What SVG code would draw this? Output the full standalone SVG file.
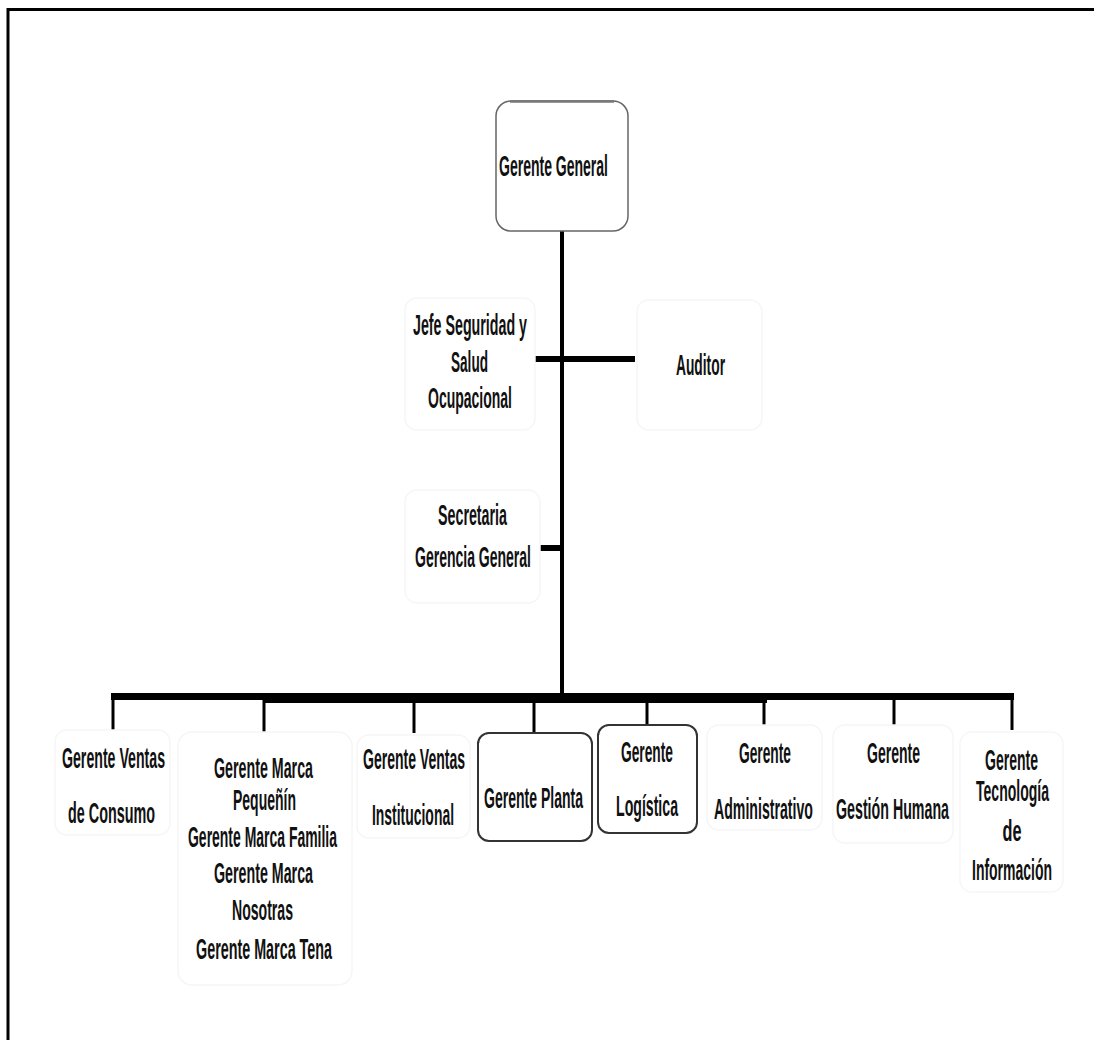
<svg xmlns="http://www.w3.org/2000/svg" width="1094" height="1040" viewBox="0 0 1094 1040">
  <style>
    text { font-family: "Liberation Sans", Arial, sans-serif; font-weight: bold; font-size: 29px; fill: #111; text-anchor: middle; }
    .frame { fill: none; stroke: #000; stroke-width: 3; }
    .ghost { fill: #fff; stroke: #f6f6f6; stroke-width: 1.5; }
    .solid { fill: #fff; stroke: #333; stroke-width: 2; }
    .top { fill: #fff; stroke: #666; stroke-width: 1.5; }
    .trunk { stroke: #000; stroke-width: 4; fill: none; }
    .stub { stroke: #000; stroke-width: 6; fill: none; }
    .drop { stroke: #000; stroke-width: 3; fill: none; }
  </style>

  <rect width="1094" height="1040" fill="#fff"/>
  <!-- page frame (right and bottom edges run off the page) -->
  <rect class="frame" x="8" y="9.5" width="1200" height="1200"/>

  <!-- connectors -->
  <g id="connectors">
    <line class="trunk" x1="562" y1="228" x2="562" y2="700"/>
    <line class="stub" x1="535" y1="359" x2="635" y2="359"/>
    <line class="stub" x1="540" y1="548" x2="562" y2="548"/>
    <line stroke="#000" stroke-width="7" x1="111" y1="696.5" x2="1014" y2="696.5"/>
    <line stroke="#000" stroke-width="10" x1="263" y1="698" x2="767" y2="698"/>
    <line class="drop" x1="113" y1="697" x2="113" y2="732"/>
    <line class="drop" x1="264" y1="697" x2="264" y2="732"/>
    <line class="drop" x1="414" y1="697" x2="414" y2="733"/>
    <line class="drop" x1="534" y1="697" x2="534" y2="733"/>
    <line class="drop" x1="647" y1="697" x2="647" y2="726"/>
    <line class="drop" x1="764" y1="697" x2="764" y2="725"/>
    <line class="drop" x1="894" y1="697" x2="894" y2="725"/>
    <line class="drop" x1="1012" y1="697" x2="1012" y2="730"/>
  </g>

  <g id="gerente-general">
    <rect class="top" x="496" y="101" width="132" height="130" rx="15"/>
    <line x1="510" y1="101.5" x2="614" y2="101.5" stroke="#777" stroke-width="2.5"/>
    <text x="553.5" y="176" textLength="109" lengthAdjust="spacingAndGlyphs">Gerente General</text>
  </g>

  <g id="jefe-seguridad">
    <rect class="ghost" x="405" y="298" width="130" height="132" rx="12"/>
    <text x="470" y="335" textLength="114" lengthAdjust="spacingAndGlyphs">Jefe Seguridad y</text>
    <text x="469.5" y="372" textLength="37" lengthAdjust="spacingAndGlyphs">Salud</text>
    <text x="470" y="408" textLength="84" lengthAdjust="spacingAndGlyphs">Ocupacional</text>
  </g>

  <g id="auditor">
    <rect class="ghost" x="637" y="300" width="125" height="130" rx="12"/>
    <text x="700.5" y="375" textLength="49" lengthAdjust="spacingAndGlyphs">Auditor</text>
  </g>

  <g id="secretaria">
    <rect class="ghost" x="405" y="490" width="135" height="113" rx="12"/>
    <text x="472.5" y="525" textLength="69" lengthAdjust="spacingAndGlyphs">Secretaria</text>
    <text x="473" y="567" textLength="116" lengthAdjust="spacingAndGlyphs">Gerencia General</text>
  </g>

  <g id="ventas-consumo">
    <rect class="ghost" x="55" y="730" width="115" height="105" rx="12"/>
    <text x="113.5" y="768" textLength="103" lengthAdjust="spacingAndGlyphs">Gerente Ventas</text>
    <text x="111.5" y="823" textLength="87" lengthAdjust="spacingAndGlyphs">de Consumo</text>
  </g>

  <g id="gerentes-marca">
    <rect class="ghost" x="178" y="732" width="174" height="253" rx="14"/>
    <text x="263.5" y="778" textLength="99" lengthAdjust="spacingAndGlyphs">Gerente Marca</text>
    <text x="264.5" y="810" textLength="63" lengthAdjust="spacingAndGlyphs">Pequeñín</text>
    <text x="262.5" y="847" textLength="149" lengthAdjust="spacingAndGlyphs">Gerente Marca Familia</text>
    <text x="263.5" y="883" textLength="99" lengthAdjust="spacingAndGlyphs">Gerente Marca</text>
    <text x="262.5" y="920" textLength="61" lengthAdjust="spacingAndGlyphs">Nosotras</text>
    <text x="264" y="959" textLength="136" lengthAdjust="spacingAndGlyphs">Gerente Marca Tena</text>
  </g>

  <g id="ventas-institucional">
    <rect class="ghost" x="357" y="735" width="113" height="103" rx="12"/>
    <text x="414" y="769" textLength="102" lengthAdjust="spacingAndGlyphs">Gerente Ventas</text>
    <text x="413" y="825" textLength="82" lengthAdjust="spacingAndGlyphs">Institucional</text>
  </g>

  <g id="gerente-planta">
    <rect class="solid" x="478" y="733" width="114" height="108" rx="11"/>
    <text x="533.5" y="808" textLength="99" lengthAdjust="spacingAndGlyphs">Gerente Planta</text>
  </g>

  <g id="gerente-logistica">
    <rect class="solid" x="598" y="725" width="99" height="108" rx="11"/>
    <text x="647" y="762" textLength="52" lengthAdjust="spacingAndGlyphs">Gerente</text>
    <text x="647" y="816" textLength="62" lengthAdjust="spacingAndGlyphs">Logística</text>
  </g>

  <g id="gerente-administrativo">
    <rect class="ghost" x="707" y="725" width="115" height="105" rx="12"/>
    <text x="765" y="763" textLength="52" lengthAdjust="spacingAndGlyphs">Gerente</text>
    <text x="763.5" y="819" textLength="99" lengthAdjust="spacingAndGlyphs">Administrativo</text>
  </g>

  <g id="gestion-humana">
    <rect class="ghost" x="833" y="725" width="120" height="118" rx="12"/>
    <text x="893.5" y="763" textLength="53" lengthAdjust="spacingAndGlyphs">Gerente</text>
    <text x="892.5" y="819" textLength="113" lengthAdjust="spacingAndGlyphs">Gestión Humana</text>
  </g>

  <g id="tecnologia-informacion">
    <rect class="ghost" x="960" y="732" width="103" height="160" rx="12"/>
    <text x="1011.5" y="770" textLength="53" lengthAdjust="spacingAndGlyphs">Gerente</text>
    <text x="1012.5" y="801" textLength="73" lengthAdjust="spacingAndGlyphs">Tecnología</text>
    <text x="1012" y="841" textLength="19" lengthAdjust="spacingAndGlyphs">de</text>
    <text x="1012" y="880" textLength="80" lengthAdjust="spacingAndGlyphs">Información</text>
  </g>
</svg>
